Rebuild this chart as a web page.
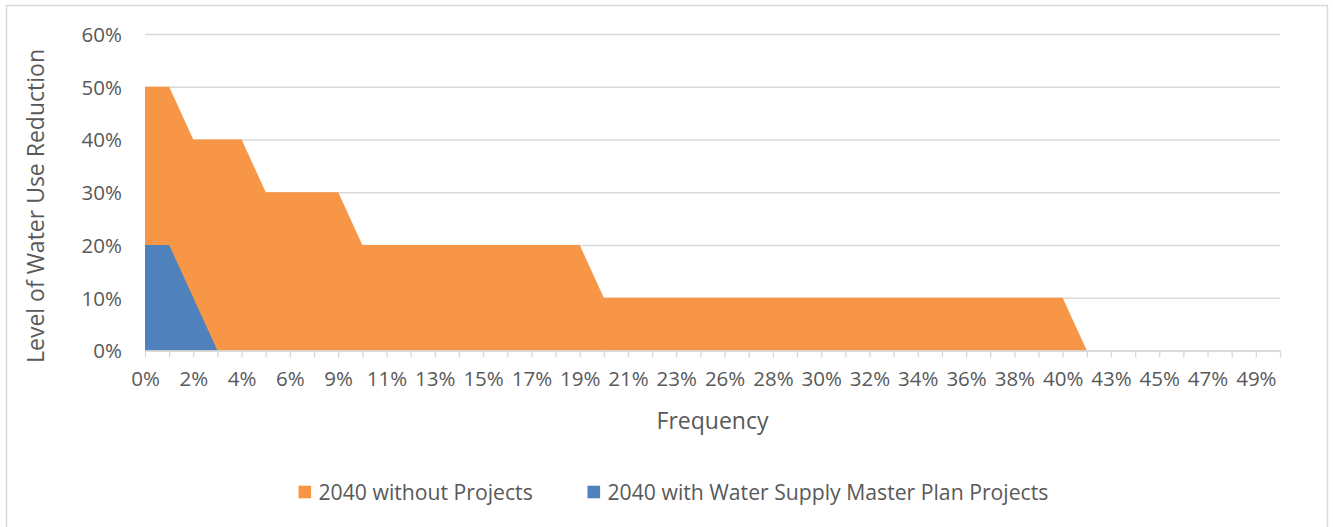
<!DOCTYPE html>
<html>
<head>
<meta charset="utf-8">
<script src="https://cdn.jsdelivr.net/npm/d3@7"></script>
<style>
  html, body { margin: 0; padding: 0; background: #fff; }
  #chart { width: 1333px; height: 527px; }
  text { font-family: 'Open Sans', 'Noto Sans', sans-serif; fill: #595959; }
</style>
</head>
<body>
<div id="chart"></div>
<script>
// frequency categories (x axis), one per step
const categories = [
  '0%', '1%', '2%', '3%', '4%', '5%', '6%', '7%', '9%', '10%',
  '11%', '12%', '13%', '14%', '15%', '16%', '17%', '18%', '19%', '20%',
  '21%', '22%', '23%', '24%', '26%', '27%', '28%', '29%', '30%', '31%',
  '32%', '33%', '34%', '35%', '36%', '37%', '38%', '39%', '40%', '41%',
  '43%', '44%', '45%', '46%', '47%', '48%', '49%', '50%'
];

// level of water use reduction, in percent
const withoutProjects = [
  50, 50, 40, 40, 40, 30, 30, 30, 30, 20,
  20, 20, 20, 20, 20, 20, 20, 20, 20, 10,
  10, 10, 10, 10, 10, 10, 10, 10, 10, 10,
  10, 10, 10, 10, 10, 10, 10, 10, 10, 0,
  0, 0, 0, 0, 0, 0, 0, 0
];

const withProjects = [
  20, 20, 10, 0, 0, 0, 0, 0, 0, 0,
  0, 0, 0, 0, 0, 0, 0, 0, 0, 0,
  0, 0, 0, 0, 0, 0, 0, 0, 0, 0,
  0, 0, 0, 0, 0, 0, 0, 0, 0, 0,
  0, 0, 0, 0, 0, 0, 0, 0
];

const yTicks = [0, 10, 20, 30, 40, 50, 60];

const seriesNames = ['2040 without Projects', '2040 with Water Supply Master Plan Projects'];
const seriesColors = ['#F79646', '#4F81BD'];

const width = 1333;
const height = 527;

const plotArea = {
  left: 145,
  right: 1280,
  top: 34,
  bottom: 350.5
};

const gridColor = '#d9d9d9';

const svg = d3
  .select('#chart')
  .append('svg')
  .attr('width', width)
  .attr('height', height);

// chart area border
svg
  .append('rect')
  .attr('x', 6.5)
  .attr('y', 5.5)
  .attr('width', 1321)
  .attr('height', 540)
  .attr('fill', '#fff')
  .attr('stroke', gridColor)
  .attr('stroke-width', 1.5);

const x = d3
  .scalePoint()
  .domain(d3.range(categories.length))
  .range([plotArea.left, plotArea.right]);

const y = d3
  .scaleLinear()
  .domain([0, 60])
  .range([plotArea.bottom, plotArea.top]);

// horizontal gridlines + y labels
const yAxis = d3
  .axisLeft(y)
  .tickValues(yTicks)
  .tickSize(-(plotArea.right - plotArea.left))
  .tickPadding(23)
  .tickFormat((d) => d + '%');

svg
  .append('g')
  .attr('class', 'y-axis')
  .attr('transform', `translate(${plotArea.left}, 0)`)
  .call(yAxis)
  .call((g) => g.select('.domain').remove())
  .call((g) => g.selectAll('line').attr('stroke', gridColor).attr('stroke-width', 1.3))
  .call((g) =>
    g
      .selectAll('text')
      .attr('fill', '#595959')
      .style('font-size', '20.5px')
      .attr('dy', '0.36em')
  );

// areas, first series drawn underneath
const area = (values) =>
  d3
    .area()
    .x((d, i) => x(i))
    .y0(y(0))
    .y1((d) => y(d))(values);

svg
  .append('g')
  .attr('class', 'areas')
  .selectAll('path')
  .data([withoutProjects, withProjects])
  .join('path')
  .attr('d', (d) => area(d))
  .attr('fill', (d, i) => seriesColors[i]);

// category axis, labels every other category
const xAxis = d3
  .axisBottom(x)
  .tickSize(7)
  .tickSizeOuter(0)
  .tickPadding(14)
  .tickFormat((i) => (i % 2 === 0 ? categories[i] : ''));

svg
  .append('g')
  .attr('class', 'x-axis')
  .attr('transform', `translate(0, ${plotArea.bottom})`)
  .call(xAxis)
  .call((g) => g.select('.domain').attr('stroke', gridColor).attr('stroke-width', 1.3))
  .call((g) => g.selectAll('line').attr('stroke', gridColor).attr('stroke-width', 1.3))
  .call((g) =>
    g
      .selectAll('text')
      .attr('fill', '#595959')
      .style('font-size', '20.5px')
      .attr('dy', '0.71em')
  );

// axis titles
svg
  .append('text')
  .attr('x', (plotArea.left + plotArea.right) / 2)
  .attr('y', 429)
  .attr('text-anchor', 'middle')
  .style('font-size', '23px')
  .text('Frequency');

svg
  .append('text')
  .attr('transform', 'translate(44, 206) rotate(-90)')
  .attr('text-anchor', 'middle')
  .style('font-size', '23px')
  .text('Level of Water Use Reduction');

// legend
const legendX = [298.5, 587.5];

const legend = svg
  .append('g')
  .attr('class', 'legend')
  .selectAll('g')
  .data(seriesNames)
  .join('g')
  .attr('transform', (d, i) => `translate(${legendX[i]}, 492)`);

legend
  .append('rect')
  .attr('x', 0)
  .attr('y', -6.3)
  .attr('width', 12.6)
  .attr('height', 12.6)
  .attr('fill', (d, i) => seriesColors[i]);

legend
  .append('text')
  .attr('x', 20)
  .attr('y', 7.5)
  .style('font-size', '21.2px')
  .text((d) => d);
</script>
</body>
</html>
